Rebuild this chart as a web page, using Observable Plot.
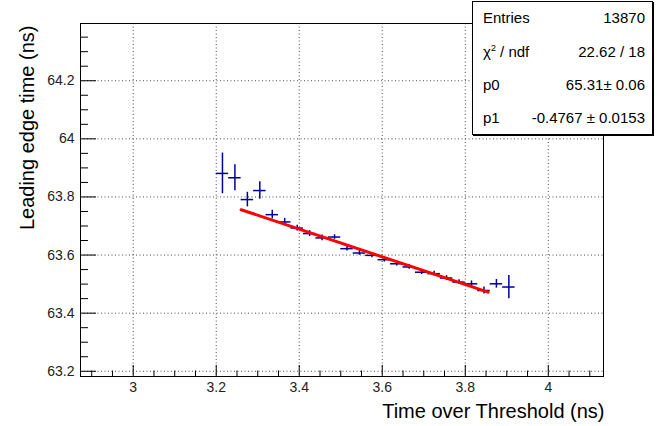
<!DOCTYPE html>
<html>
<head>
<meta charset="utf-8">
<script src="https://cdn.jsdelivr.net/npm/d3@7"></script>
<script src="https://cdn.jsdelivr.net/npm/@observablehq/plot@0.6"></script>
<style>
  html, body { margin: 0; padding: 0; background: #fff; }
  #wrap { position: relative; width: 657px; height: 426px; font-family: "Liberation Sans", Arial, Helvetica, sans-serif; }
  #stats { position: absolute; left: 472px; top: 1px; width: 181px; height: 134px; border: 1px solid #000; box-shadow: 1px 1px 0 #000; background: #fff; box-sizing: border-box; }
  #stats .row { position: absolute; left: 10px; right: 7px; height: 22px; line-height: 22px; font-size: 15px; color: #000; }
  #stats .row .k { position: absolute; left: 0; }
  #stats .row .v { position: absolute; right: 0; }
  sup { font-size: 9px; line-height: 0; vertical-align: 6px; }
</style>
</head>
<body>
<div id="wrap"></div>
<script>
// ---- data ----
const binCenters = [3.215, 3.245, 3.275, 3.305, 3.335, 3.365, 3.395, 3.425, 3.455, 3.485, 3.515, 3.545,
                    3.575, 3.605, 3.635, 3.665, 3.695, 3.725, 3.755, 3.785, 3.815, 3.845, 3.875, 3.905];
const meanValues = [63.881, 63.866, 63.791, 63.822, 63.739, 63.714, 63.693, 63.674, 63.659, 63.662, 63.622, 63.607,
                    63.599, 63.584, 63.570, 63.559, 63.541, 63.536, 63.521, 63.507, 63.501, 63.478, 63.501, 63.490];
const meanErrors = [0.070, 0.045, 0.025, 0.030, 0.015, 0.012, 0.010, 0.010, 0.010, 0.008, 0.008, 0.008,
                    0.008, 0.008, 0.008, 0.008, 0.008, 0.008, 0.008, 0.008, 0.010, 0.012, 0.015, 0.040];
const binHalfWidth = 0.015;
const fitP0 = 65.31, fitP1 = -0.4767;
const fitRange = [3.26, 3.855];
const xTicks = [3, 3.2, 3.4, 3.6, 3.8, 4];
const yTicks = [63.2, 63.4, 63.6, 63.8, 64, 64.2];
const xDomain = [2.873, 4.133];
const yDomain = [63.182, 64.397];
const xTitle = "Time over Threshold (ns)";
const yTitle = "Leading edge time (ns)";
const statsLabels = ["Entries", "χ<sup>2</sup> / ndf", "p0", "p1"];
const statsValues = ["13870", "22.62 / 18", "65.31\u00b1 0.06", "-0.4767 \u00b1 0.0153"];

// ---- build ----
const points = binCenters.map((x, i) => ({x, y: meanValues[i], e: meanErrors[i]}));
const fitPts = fitRange.map(x => ({x, y: fitP0 + fitP1 * x}));
const xMinor = d3.range(58, 83).filter(i => i % 4 !== 0).map(i => i * 0.05);
const yMinor = d3.range(1264, 1288).filter(i => i % 4 !== 0).map(i => i * 0.05);

const W = 657, H = 426, mL = 80, mR = 54, mT = 23, mB = 50;
const plotW = W - mL - mR, plotH = H - mT - mB;
const blue = "#000099";
const grid = {stroke: "#000", strokeOpacity: 0.7, strokeDasharray: "1,2.5"};

const chart = Plot.plot({
  width: W, height: H,
  marginLeft: mL, marginRight: mR, marginTop: mT, marginBottom: mB,
  x: {domain: xDomain},
  y: {domain: yDomain},
  style: {fontFamily: "'Liberation Sans', Arial, Helvetica, sans-serif", fontSize: "14px", background: "#fff", color: "#000", overflow: "visible"},
  marks: [
    Plot.gridX(xTicks, grid),
    Plot.gridY(yTicks, grid),
    Plot.tickX(xTicks, {x: d => d, insetTop: plotH - 11, stroke: "#000"}),
    Plot.tickX(xMinor, {x: d => d, insetTop: plotH - 5.5, stroke: "#000"}),
    Plot.tickY(yTicks, {y: d => d, insetRight: plotW - 16, stroke: "#000"}),
    Plot.tickY(yMinor, {y: d => d, insetRight: plotW - 8, stroke: "#000"}),
    Plot.axisX(xTicks, {tickSize: 0, tickPadding: 6, fontSize: 14, label: null, tickFormat: d => `${d}`, fill: "#222"}),
    Plot.axisY(yTicks, {tickSize: 0, tickPadding: 6, fontSize: 14, label: null, tickFormat: d => `${d}`, fill: "#222"}),
    Plot.frame({stroke: "#000"}),
    Plot.ruleY(points, {y: "y", x1: d => d.x - binHalfWidth, x2: d => d.x + binHalfWidth, stroke: blue, strokeWidth: 1.5}),
    Plot.ruleX(points, {x: "x", y1: d => d.y - d.e, y2: d => d.y + d.e, stroke: blue, strokeWidth: 1.5}),
    Plot.line(fitPts, {x: "x", y: "y", stroke: "#ff0000", strokeWidth: 3}),
    Plot.text([xTitle], {frameAnchor: "bottom-right", dy: 35, dx: 1, lineAnchor: "middle", textAnchor: "end", fontSize: 20, fill: "#000"}),
    Plot.text([yTitle], {frameAnchor: "top-left", rotate: -90, dx: -53, dy: 2, lineAnchor: "middle", textAnchor: "end", fontSize: 20, fill: "#000"})
  ]
});

const wrap = document.getElementById("wrap");
wrap.appendChild(chart);
chart.style.position = "absolute";
chart.style.left = "0px";
chart.style.top = "0px";

const stats = document.createElement("div");
stats.id = "stats";
const rowCenters = [17, 51, 84, 117];
statsLabels.forEach((k, i) => {
  const r = document.createElement("div");
  r.className = "row";
  r.style.top = (rowCenters[i] - 12) + "px";
  r.innerHTML = `<span class="k">${k}</span><span class="v">${statsValues[i]}</span>`;
  stats.appendChild(r);
});
wrap.appendChild(stats);
</script>
</body>
</html>
